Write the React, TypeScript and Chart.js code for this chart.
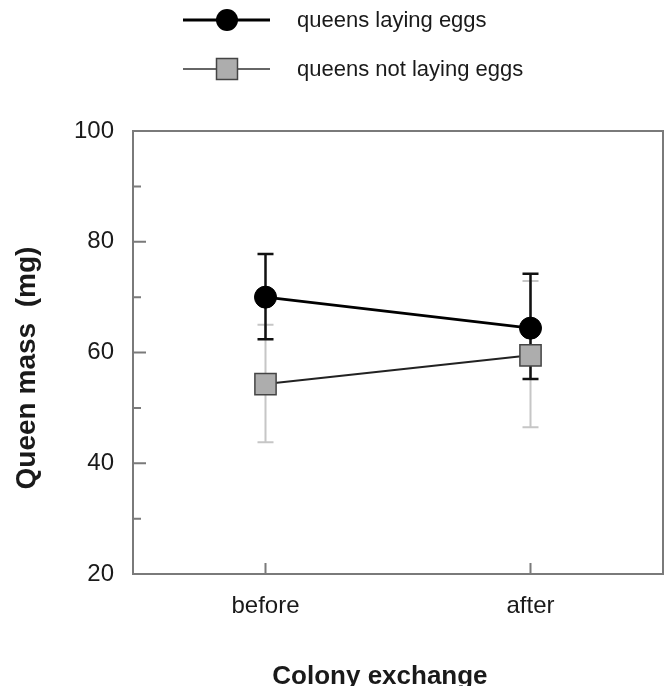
import React, { useEffect, useRef } from "react";
import { Chart, registerables } from "chart.js";

Chart.register(...registerables);

const categories = ["before", "after"];
const seriesNames = ["queens laying eggs", "queens not laying eggs"];
const layingMean = [70, 64.4];
const layingUpper = [77.8, 74.2];
const layingLower = [62.4, 55.2];
const notLayingMean = [54.3, 59.5];
const notLayingUpper = [65, 72.9];
const notLayingLower = [43.8, 46.5];
const yMinorTicks = [30, 50, 70, 90];
const yMajorTicks = [20, 40, 60, 80, 100];

const FONT = "'Liberation Sans', Arial, Helvetica, sans-serif";
const TEXT = "#1a1a1a";
const FRAME = "#7a7a7a";

const customPlugin = {
  id: "custom",
  beforeDatasetsDraw(chart: any) {
    const ctx = chart.ctx;
    const xs = chart.scales.x;
    const ys = chart.scales.y;
    const drawBars = (upper: number[], lower: number[], color: string, width: number, capHalf: number) => {
      ctx.save();
      ctx.strokeStyle = color;
      ctx.lineWidth = width;
      categories.forEach((_c, i) => {
        const px = xs.getPixelForValue(i);
        const yu = ys.getPixelForValue(upper[i]);
        const yl = ys.getPixelForValue(lower[i]);
        ctx.beginPath();
        ctx.moveTo(px, yu);
        ctx.lineTo(px, yl);
        ctx.moveTo(px - capHalf, yu);
        ctx.lineTo(px + capHalf, yu);
        ctx.moveTo(px - capHalf, yl);
        ctx.lineTo(px + capHalf, yl);
        ctx.stroke();
      });
      ctx.restore();
    };
    drawBars(notLayingUpper, notLayingLower, "#c6c6c6", 2, 8);
    drawBars(layingUpper, layingLower, "#111111", 2.5, 8);
  },
  afterDraw(chart: any) {
    const ctx = chart.ctx;
    const { left, right, top, bottom } = chart.chartArea;
    const xs = chart.scales.x;
    const ys = chart.scales.y;
    ctx.save();
    ctx.strokeStyle = FRAME;
    ctx.lineWidth = 2;
    ctx.strokeRect(left, top, right - left, bottom - top);
    ctx.beginPath();
    yMajorTicks.forEach((v) => {
      const py = ys.getPixelForValue(v);
      ctx.moveTo(left, py);
      ctx.lineTo(left + 13, py);
    });
    yMinorTicks.forEach((v) => {
      const py = ys.getPixelForValue(v);
      ctx.moveTo(left, py);
      ctx.lineTo(left + 8, py);
    });
    categories.forEach((_c, i) => {
      const px = xs.getPixelForValue(i);
      ctx.moveTo(px, bottom);
      ctx.lineTo(px, bottom - 11);
    });
    ctx.stroke();

    // legend
    const lx0 = 183;
    const lx1 = 270;
    const mx = 227;
    const rows = [20, 69];
    ctx.strokeStyle = "#000";
    ctx.lineWidth = 3;
    ctx.beginPath();
    ctx.moveTo(lx0, rows[0]);
    ctx.lineTo(lx1, rows[0]);
    ctx.stroke();
    ctx.fillStyle = "#000";
    ctx.beginPath();
    ctx.arc(mx, rows[0], 11, 0, Math.PI * 2);
    ctx.fill();
    ctx.strokeStyle = "#333";
    ctx.lineWidth = 1.5;
    ctx.beginPath();
    ctx.moveTo(lx0, rows[1]);
    ctx.lineTo(lx1, rows[1]);
    ctx.stroke();
    ctx.fillStyle = "#adadad";
    ctx.fillRect(mx - 10.5, rows[1] - 10.5, 21, 21);
    ctx.strokeStyle = "#444";
    ctx.lineWidth = 1.5;
    ctx.strokeRect(mx - 10.5, rows[1] - 10.5, 21, 21);

    ctx.fillStyle = TEXT;
    ctx.font = `22px ${FONT}`;
    ctx.textBaseline = "alphabetic";
    ctx.textAlign = "left";
    ctx.fillText(seriesNames[0], 297, 27);
    ctx.fillText(seriesNames[1], 297, 76);
    ctx.restore();
  },
};

export default function App() {
  const ref = useRef<HTMLCanvasElement | null>(null);
  useEffect(() => {
    if (!ref.current) return;
    Chart.defaults.font.family = FONT;
    const chart = new Chart(ref.current, {
      type: "line",
      data: {
        labels: categories,
        datasets: [
          {
            label: seriesNames[0],
            data: layingMean,
            borderColor: "#000",
            borderWidth: 3,
            pointStyle: "circle",
            pointRadius: 11,
            pointBackgroundColor: "#000",
            pointBorderColor: "#000",
            pointBorderWidth: 1,
          },
          {
            label: seriesNames[1],
            data: notLayingMean,
            borderColor: "#222",
            borderWidth: 2,
            pointStyle: "rect",
            pointRadius: 15,
            pointBackgroundColor: "#adadad",
            pointBorderColor: "#444",
            pointBorderWidth: 1.5,
          },
        ],
      },
      options: {
        responsive: false,
        animation: false,
        layout: { autoPadding: false, padding: { top: 131, right: 3, left: 0, bottom: 0 } },
        plugins: {
          legend: { display: false },
          tooltip: { enabled: false },
        },
        scales: {
          x: {
            type: "category",
            offset: true,
            grid: { display: false, drawTicks: false },
            border: { display: false },
            ticks: { font: { size: 24 }, color: TEXT, padding: 18 },
            title: {
              display: true,
              text: "Colony exchange     ",
              color: TEXT,
              font: { size: 26, weight: "bold", lineHeight: 0.7 },
              padding: 0,
            },
            afterFit: (s: any) => {
              s.height = 112;
              s.paddingLeft = 0;
              s.paddingRight = 0;
            },
          },
          y: {
            type: "linear",
            min: 20,
            max: 100,
            grid: { display: false, drawTicks: false },
            border: { display: false },
            ticks: { stepSize: 20, font: { size: 24 }, color: TEXT, padding: 19 },
            title: {
              display: true,
              text: "Queen mass  (mg)    ",
              color: TEXT,
              font: { size: 28, weight: "bold" },
              padding: { top: 10.5, bottom: 0 },
            },
            afterFit: (s: any) => {
              s.width = 133;
            },
          },
        },
      },
      plugins: [customPlugin],
    } as any);
    return () => chart.destroy();
  }, []);
  return (
    <div style={{ position: "absolute", left: 0, top: 0, width: 666, height: 686, background: "#fff" }}>
      <canvas ref={ref} width={666} height={686} style={{ display: "block" }} />
    </div>
  );
}
